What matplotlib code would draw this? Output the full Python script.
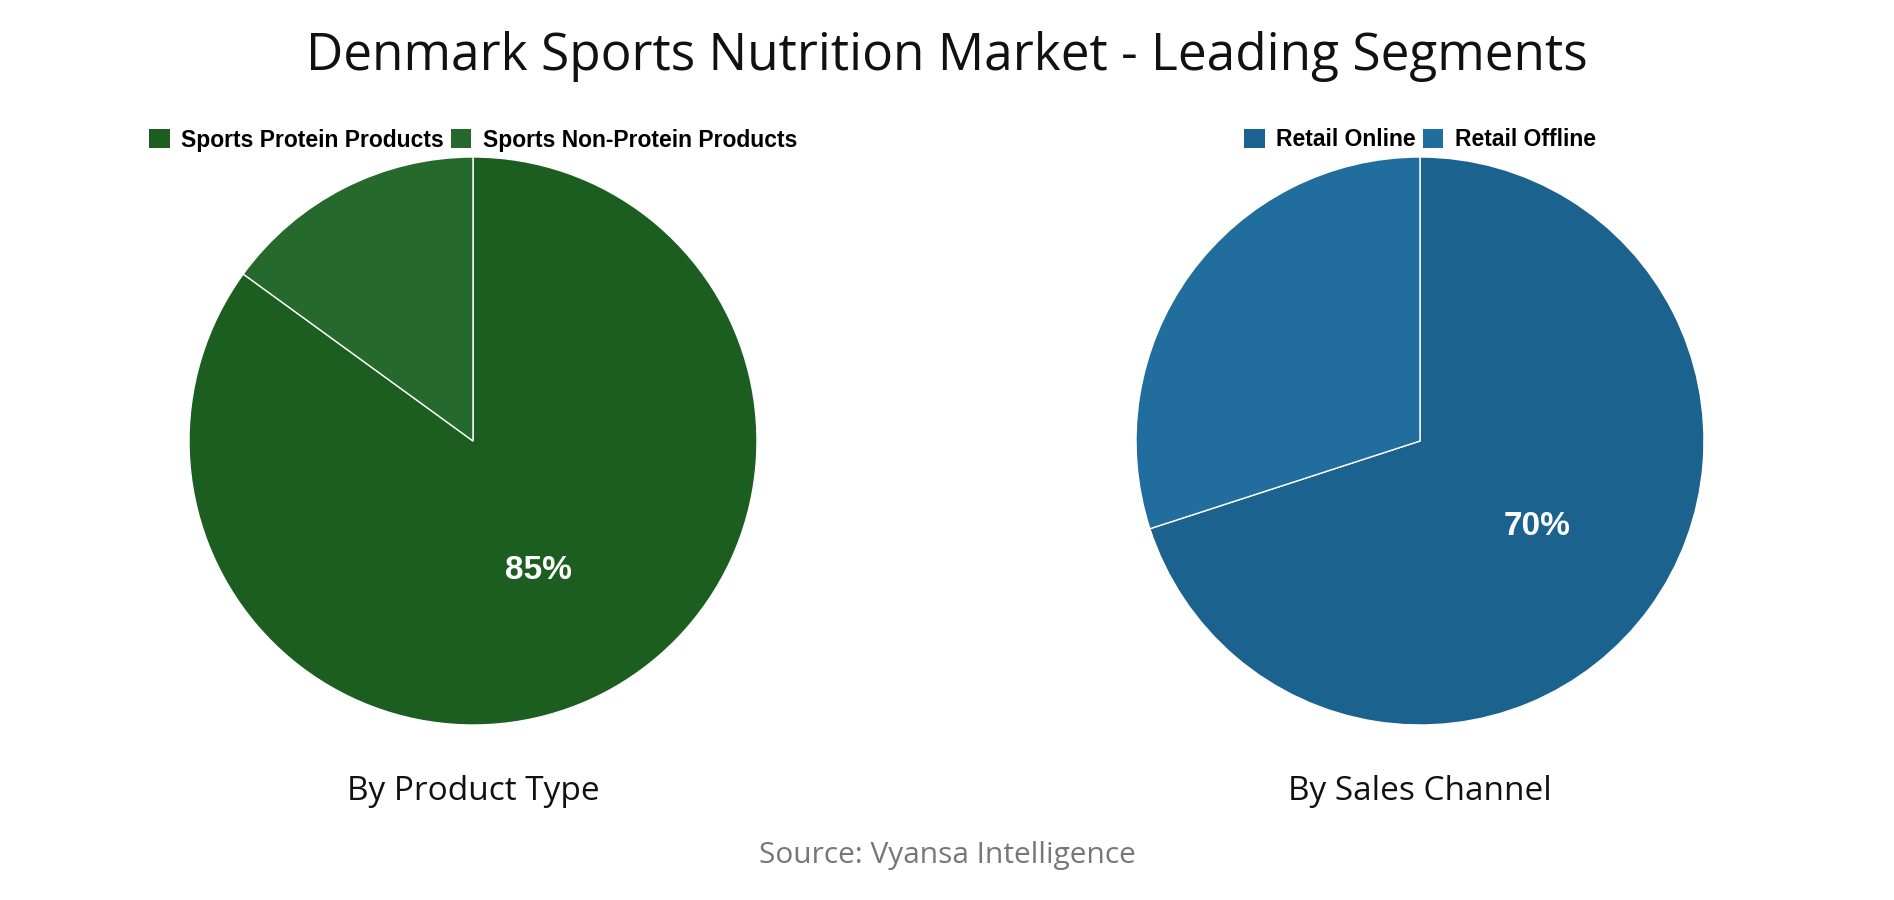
import matplotlib
matplotlib.use("Agg")
import matplotlib.pyplot as plt
from matplotlib.patches import Patch
import numpy as np

title = "Denmark Sports Nutrition Market - Leading Segments"
product_labels = ["Sports Protein Products", "Sports Non-Protein Products"]
product_values = [85, 15]
product_colors = ["#1c5e20", "#26692c"]
channel_labels = ["Retail Online", "Retail Offline"]
channel_values = [70, 30]
channel_colors = ["#1b628e", "#216e9e"]
subtitles = ["By Product Type", "By Sales Channel"]
source = "Source: Vyansa Intelligence"

W, H = 1894, 900
fig = plt.figure(figsize=(W / 100, H / 100), dpi=100)
fig.patch.set_facecolor("white")

title_font = ["Open Sans", "DejaVu Sans"]
bold_font = ["Liberation Sans", "DejaVu Sans"]

fig.text(0.5, 1 - 57 / H, title, ha="center", va="center", fontsize=37,
         family=title_font, color="#111111")

R = 284
def add_pie(cx, cy, values, labels, colors, subtitle):
    ax = fig.add_axes([(cx - R) / W, 1 - (cy + R) / H, 2 * R / W, 2 * R / H])
    ax.pie(values, colors=colors, startangle=90, counterclock=False,
           radius=1, wedgeprops=dict(edgecolor="white", linewidth=1))
    total = sum(values)
    i = int(np.argmax(values))
    start = sum(values[:i]) / total * 360
    mid = start + values[i] / total * 180
    ang = np.deg2rad(90 - mid)
    ax.text(0.51 * np.cos(ang), 0.51 * np.sin(ang), f"{values[i]}%", ha="center",
            va="center", color="white", fontsize=24, fontweight="bold", family=bold_font)
    ax.set_xlim(-1, 1)
    ax.set_ylim(-1, 1)
    ax.set_aspect("equal")
    ax.axis("off")
    handles = [Patch(facecolor=c, edgecolor="none") for c in colors]
    fig.legend(handles, labels, loc="center", bbox_to_anchor=(cx / W, 1 - 140 / H),
               ncol=2, frameon=False, handlelength=0.9, handleheight=0.9,
               handletextpad=0.5, columnspacing=0.3,
               prop=dict(family=bold_font, weight="bold", size=16.5))
    fig.text(cx / W, 1 - 791 / H, subtitle, ha="center", va="center", fontsize=24,
             family=title_font, color="#111111")

add_pie(473, 441, product_values, product_labels, product_colors, subtitles[0])
add_pie(1420, 441, channel_values, channel_labels, channel_colors, subtitles[1])

fig.text(0.5, 1 - 855 / H, source, ha="center", va="center", fontsize=21.5,
         family=title_font, color="#777777")

fig.savefig("out.png", dpi=100, facecolor="white")
